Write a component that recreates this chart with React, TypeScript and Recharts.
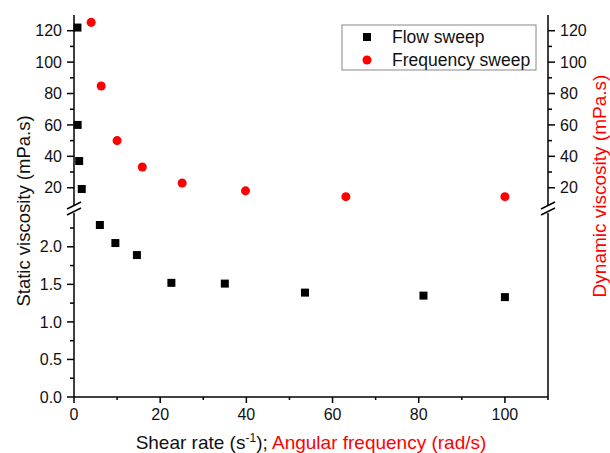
import React from 'react';
import { ScatterChart, Scatter, XAxis, YAxis, ZAxis } from 'recharts';

// ---- data ----
const flowShearRate = [0.8, 0.85, 1.2, 1.8, 6.0, 9.6, 14.6, 22.6, 35.0, 53.6, 81.1, 100];
const flowViscosity = [122, 60, 37, 19.2, 2.29, 2.05, 1.89, 1.52, 1.51, 1.39, 1.35, 1.33];
const freqAngular = [3.98, 6.31, 10, 15.85, 25.1, 39.8, 63.1, 100];
const freqViscosity = [125.3, 84.8, 50, 33.2, 23, 18, 14.3, 14.3];

const seriesNames = ['Flow sweep', 'Frequency sweep'];
const seriesColors = ['#000000', '#ff0000'];

const xTicksMajor = [0, 20, 40, 60, 80, 100];
const xTicksMinor = [10, 30, 50, 70, 90, 110];
const upperTicksMajor = [20, 40, 60, 80, 100, 120];
const upperTicksMinor = [30, 50, 70, 90, 110];
const lowerTicksMajor = [0, 0.5, 1, 1.5, 2];
const lowerTicksMinor = [0.25, 0.75, 1.25, 1.75, 2.25];

const xDomain: [number, number] = [0, 110];
const upperDomain: [number, number] = [9, 130];
const lowerDomain: [number, number] = [0, 2.45];

const xTitle = 'Shear rate (s';
const xTitleSup = '-1';
const xTitleRest = '); ';
const xTitleRed = 'Angular frequency (rad/s)';
const leftTitle = 'Static viscosity (mPa.s)';
const rightTitle = 'Dynamic viscosity (mPa.s)';

// ---- layout ----
const FONT = '"Liberation Sans", Arial, Helvetica, sans-serif';
const W = 610;
const H = 453;
const PLOT_LEFT = 74;
const PLOT_RIGHT = 548;
const AXIS_W = 60;
const TICK_SIZE = 6;
const TICK_MARGIN = 6;
const UPPER_H = 210;
const UPPER_TOP = 15;
const UPPER_BOTTOM_M = 5;
const LOWER_TOP_POS = 205;
const LOWER_H = H - LOWER_TOP_POS;
const LOWER_TOP_M = 8;
const X_AXIS_H = 56;
const STROKE = 1.5;

const isIn = (v: number, arr: number[]) => arr.some((m) => Math.abs(m - v) < 1e-9);

const flowData = flowShearRate.map((x, i) => ({ x, y: flowViscosity[i] }));
const freqData = freqAngular.map((x, i) => ({ x, y: freqViscosity[i] }));
const inDomain = (d: { y: number }, dom: [number, number]) => d.y >= dom[0] && d.y <= dom[1];
const flowUpper = flowData.filter((d) => inDomain(d, upperDomain));
const flowLower = flowData.filter((d) => inDomain(d, lowerDomain));
const freqUpper = freqData.filter((d) => inDomain(d, upperDomain));

const makeYTick = (side: 'left' | 'right', majors: number[], fmt: (v: number) => string) => (props: any) => {
  const { x, y, payload } = props;
  const v = payload.value;
  const major = isIn(v, majors);
  const axisX = side === 'left' ? x + TICK_SIZE + TICK_MARGIN : x - TICK_SIZE - TICK_MARGIN;
  const len = major ? 7 : 4;
  const x2 = side === 'left' ? axisX - len : axisX + len;
  return (
    <g>
      <line x1={axisX} y1={y} x2={x2} y2={y} stroke="#000" strokeWidth={STROKE} />
      {major && (
        <text
          x={x}
          y={y}
          dy="0.355em"
          textAnchor={side === 'left' ? 'end' : 'start'}
          fontSize={16}
          fontFamily={FONT}
          fill="#111"
        >
          {fmt(v)}
        </text>
      )}
    </g>
  );
};

const XTick = (props: any) => {
  const { x, y, payload } = props;
  const v = payload.value;
  const major = isIn(v, xTicksMajor);
  const axisY = y - TICK_SIZE - TICK_MARGIN;
  const len = major ? 6 : 3;
  return (
    <g>
      <line x1={x} y1={axisY} x2={x} y2={axisY + len} stroke="#000" strokeWidth={STROKE} />
      {major && (
        <text x={x} y={y} dy="0.71em" textAnchor="middle" fontSize={16} fontFamily={FONT} fill="#111">
          {String(v)}
        </text>
      )}
    </g>
  );
};

const fmtInt = (v: number) => String(v);
const fmtOne = (v: number) => v.toFixed(1);

const upperTicks = [...upperTicksMajor, ...upperTicksMinor].sort((a, b) => a - b);
const lowerTicks = [...lowerTicksMajor, ...lowerTicksMinor].sort((a, b) => a - b);
const xTicks = [...xTicksMajor, ...xTicksMinor].sort((a, b) => a - b);

const axisLine = { stroke: '#000', strokeWidth: STROKE };

export default function App() {
  const breakY = UPPER_TOP + (UPPER_H - UPPER_TOP - UPPER_BOTTOM_M); // 205
  const breaks = [PLOT_LEFT, PLOT_RIGHT];
  return (
    <div style={{ position: 'absolute', left: 0, top: 0, width: W, height: H, background: '#fff', fontFamily: FONT }}>
      <div style={{ position: 'absolute', left: 0, top: 0 }}>
        <ScatterChart
          width={W}
          height={UPPER_H}
          margin={{ top: UPPER_TOP, right: W - PLOT_RIGHT - AXIS_W, bottom: UPPER_BOTTOM_M, left: PLOT_LEFT - AXIS_W }}
        >
          <XAxis
            dataKey="x"
            type="number"
            orientation="top"
            domain={xDomain}
            height={0}
            tick={false}
            tickLine={false}
            axisLine={axisLine}
          />
          <YAxis
            yAxisId="left"
            dataKey="y"
            type="number"
            domain={upperDomain}
            ticks={upperTicks}
            interval={0}
            width={AXIS_W}
            tickSize={TICK_SIZE}
            tickMargin={TICK_MARGIN}
            tickLine={false}
            axisLine={axisLine}
            tick={makeYTick('left', upperTicksMajor, fmtInt)}
          />
          <YAxis
            yAxisId="right"
            orientation="right"
            dataKey="y"
            type="number"
            domain={upperDomain}
            ticks={upperTicks}
            interval={0}
            width={AXIS_W}
            tickSize={TICK_SIZE}
            tickMargin={TICK_MARGIN}
            tickLine={false}
            axisLine={axisLine}
            tick={makeYTick('right', upperTicksMajor, fmtInt)}
          />
          <ZAxis range={[64, 64]} />
          <Scatter
            yAxisId="left"
            name={seriesNames[0]}
            data={flowUpper}
            fill={seriesColors[0]}
            shape="square"
            isAnimationActive={false}
          />
          <Scatter
            yAxisId="right"
            name={seriesNames[1]}
            data={freqUpper}
            fill={seriesColors[1]}
            shape="circle"
            isAnimationActive={false}
          />
        </ScatterChart>
      </div>
      <div style={{ position: 'absolute', left: 0, top: LOWER_TOP_POS }}>
        <ScatterChart
          width={W}
          height={LOWER_H}
          margin={{ top: LOWER_TOP_M, right: W - PLOT_RIGHT - AXIS_W, bottom: 0, left: PLOT_LEFT - AXIS_W }}
        >
          <XAxis
            dataKey="x"
            type="number"
            domain={xDomain}
            ticks={xTicks}
            interval={0}
            height={X_AXIS_H}
            tickSize={TICK_SIZE}
            tickMargin={TICK_MARGIN + 2}
            tickLine={false}
            axisLine={axisLine}
            tick={(p: any) => <XTick {...p} y={p.y - 2} />}
          />
          <YAxis
            yAxisId="left"
            dataKey="y"
            type="number"
            domain={lowerDomain}
            ticks={lowerTicks}
            interval={0}
            width={AXIS_W}
            tickSize={TICK_SIZE}
            tickMargin={TICK_MARGIN}
            tickLine={false}
            axisLine={axisLine}
            tick={makeYTick('left', lowerTicksMajor, fmtOne)}
          />
          <YAxis
            yAxisId="right"
            orientation="right"
            dataKey="y"
            type="number"
            domain={lowerDomain}
            ticks={lowerTicks}
            interval={0}
            width={AXIS_W}
            tickSize={TICK_SIZE}
            tickMargin={TICK_MARGIN}
            tickLine={false}
            axisLine={axisLine}
            tick={makeYTick('right', lowerTicksMajor, fmtOne)}
          />
          <ZAxis range={[64, 64]} />
          <Scatter
            yAxisId="left"
            name={seriesNames[0]}
            data={flowLower}
            fill={seriesColors[0]}
            shape="square"
            isAnimationActive={false}
          />
        </ScatterChart>
      </div>
      <svg
        width={W}
        height={H}
        style={{ position: 'absolute', left: 0, top: 0, pointerEvents: 'none', overflow: 'visible' }}
      >
        {breaks.map((bx) => (
          <g key={bx}>
            <line x1={bx - 7} y1={breakY + 4} x2={bx + 7} y2={breakY - 3} stroke="#000" strokeWidth={STROKE} />
            <line x1={bx - 7} y1={breakY + 10} x2={bx + 7} y2={breakY + 3} stroke="#000" strokeWidth={STROKE} />
          </g>
        ))}
        <text
          x={311}
          y={442}
          dy="0.355em"
          textAnchor="middle"
          fontSize={19}
          fontFamily={FONT}
          fill="#111"
        >
          <tspan>{xTitle}</tspan>
          <tspan dy={-7} fontSize={12}>{xTitleSup}</tspan>
          <tspan dy={7}>{xTitleRest}</tspan>
          <tspan fill="#ff0000">{xTitleRed}</tspan>
        </text>
        <text
          transform="translate(23,211) rotate(-90)"
          textAnchor="middle"
          dy="0.355em"
          fontSize={18.5}
          fontFamily={FONT}
          fill="#111"
        >
          {leftTitle}
        </text>
        <text
          transform="translate(599,186) rotate(-90)"
          textAnchor="middle"
          dy="0.355em"
          fontSize={19}
          fontFamily={FONT}
          fill="#ff0000"
        >
          {rightTitle}
        </text>
        <g>
          <rect x={342} y={25} width={194} height={45} fill="#fff" stroke="#888" strokeWidth={1} />
          <rect x={363} y={33} width={8} height={8} fill={seriesColors[0]} />
          <circle cx={367} cy={60} r={4.5} fill={seriesColors[1]} />
          <text x={392} y={37} dy="0.355em" fontSize={17.5} fontFamily={FONT} fill="#111">
            {seriesNames[0]}
          </text>
          <text x={392} y={60} dy="0.355em" fontSize={17.5} fontFamily={FONT} fill="#111">
            {seriesNames[1]}
          </text>
        </g>
      </svg>
    </div>
  );
}
